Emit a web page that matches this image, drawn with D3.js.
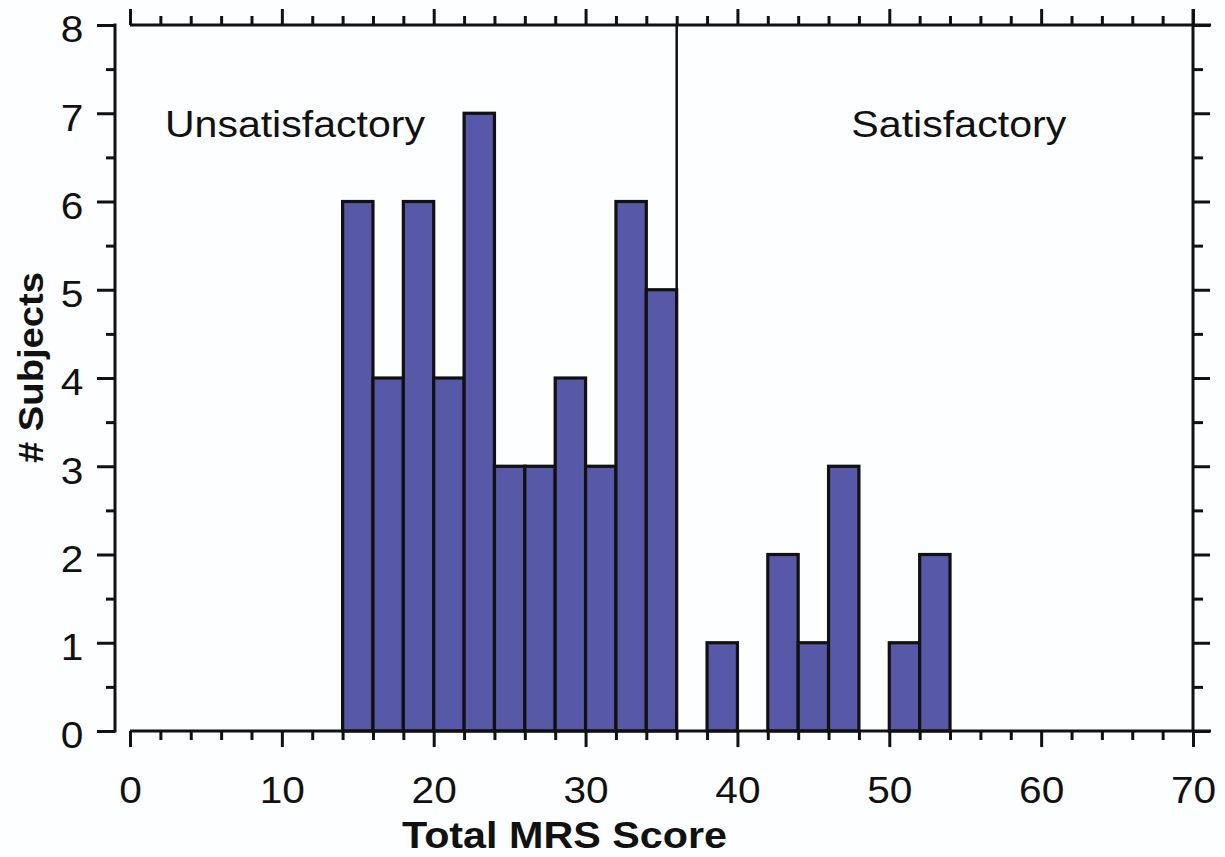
<!DOCTYPE html>
<html lang="en">
    <head>
        <meta charset="utf-8">
        <title>MRS Score Histogram</title>
        <script type="text/javascript" src="https://d3js.org/d3.v7.min.js"></script>
        <style>
            body { margin: 0; background: #fdfeff; }
            text { font-family: "Liberation Sans", Arial, sans-serif; fill: #111; }
        </style>
    </head>
    <body>
        <div class="chart"></div>
        <script type="text/javascript">
            // histogram bins (left edge of each 2-point bin) and subject counts
            const binStart = [14, 16, 18, 20, 22, 24, 26, 28, 30, 32, 34, 38, 42, 44, 46, 50, 52];
            const counts   = [ 6,  4,  6,  4,  7,  3,  3,  4,  3,  6,  5,  1,  2,  1,  3,  1,  2];
            const binWidth = 2;
            const xTicks = [0, 10, 20, 30, 40, 50, 60, 70];
            const yTicks = [0, 1, 2, 3, 4, 5, 6, 7, 8];
            const cutoff = 36;
            const regionNames = ['Unsatisfactory', 'Satisfactory'];

            const width = 1225;
            const height = 857;
            const stretch = 1.13;   // the original text is a bit wider than Arial

            const svg = d3.select('.chart')
                .append('svg')
                .attr('width', width)
                .attr('height', height);

            const x = d3.scaleLinear().domain([0, 70]).range([130, 1193]);
            const y = d3.scaleLinear().domain([0, 8]).range([731, 25]);

            const xMinor = d3.range(0, 71, 2).filter(v => v % 10 !== 0);
            const yMinor = d3.range(0.5, 8, 1);

            // bars
            const bins = binStart.map((b, i) => ({x0: b, x1: b + binWidth, n: counts[i]}));
            svg.selectAll('rect.bar')
                .data(bins)
                .enter()
                .append('rect')
                .attr('class', 'bar')
                .attr('x', d => x(d.x0))
                .attr('y', d => y(d.n))
                .attr('width', d => x(d.x1) - x(d.x0))
                .attr('height', d => y(0) - y(d.n))
                .attr('fill', '#5858a8')
                .attr('stroke', '#111')
                .attr('stroke-width', 3.2);

            // cutoff line
            svg.append('line')
                .attr('x1', x(cutoff)).attr('x2', x(cutoff))
                .attr('y1', y(8)).attr('y2', y(0))
                .attr('stroke', '#111').attr('stroke-width', 2.5);

            function styleAxis(g) {
                g.select('.domain').remove();
                g.selectAll('line').attr('stroke', '#111').attr('stroke-width', 3);
            }

            // bottom axis
            const gb = svg.append('g').attr('transform', `translate(0,${y(0)})`);
            gb.append('g').call(d3.axisBottom(x).tickValues(xMinor).tickSize(9).tickFormat('')).call(styleAxis);
            gb.append('g').call(d3.axisBottom(x).tickValues(xTicks).tickSize(16).tickPadding(30)).call(styleAxis)
                .selectAll('text')
                .attr('font-size', 36)
                .attr('font-family', '"Liberation Sans", Arial, sans-serif')
                .attr('fill', '#111')
                .attr('transform', `scale(${stretch},1)`);
            gb.append('line').attr('x1', x(0)).attr('x2', 1211).attr('stroke', '#111').attr('stroke-width', 3);

            // top axis
            const gt = svg.append('g').attr('transform', `translate(0,${y(8)})`);
            gt.append('g').call(d3.axisTop(x).tickValues(xMinor).tickSize(9).tickFormat('')).call(styleAxis);
            gt.append('g').call(d3.axisTop(x).tickValues(xTicks).tickSize(16).tickFormat('')).call(styleAxis);
            gt.append('line').attr('x1', x(0)).attr('x2', 1211).attr('stroke', '#111').attr('stroke-width', 3);

            // left axis (offset from the plot)
            const gl = svg.append('g').attr('transform', 'translate(115,0)');
            gl.append('g').call(d3.axisLeft(y).tickValues(yMinor).tickSize(9).tickFormat('')).call(styleAxis);
            gl.append('g').call(d3.axisLeft(y).tickValues(yTicks).tickSize(18).tickPadding(10)).call(styleAxis)
                .selectAll('text')
                .attr('font-size', 36)
                .attr('font-family', '"Liberation Sans", Arial, sans-serif')
                .attr('fill', '#111')
                .attr('dy', '0.47em')
                .attr('transform', `scale(${stretch},1)`);
            gl.append('line').attr('y1', y(0) + 1.5).attr('y2', y(8) - 1.5).attr('stroke', '#111').attr('stroke-width', 3);

            // right axis
            const gr = svg.append('g').attr('transform', `translate(${x(70)},0)`);
            gr.append('g').call(d3.axisRight(y).tickValues(yMinor).tickSize(10).tickFormat('')).call(styleAxis);
            gr.append('g').call(d3.axisRight(y).tickValues(yTicks).tickSize(17).tickFormat('')).call(styleAxis);
            gr.append('line').attr('y1', y(0)).attr('y2', y(8) - 16).attr('stroke', '#111').attr('stroke-width', 3);

            // region labels
            svg.append('text')
                .attr('x', x(2.3)).attr('y', 137)
                .attr('font-size', 37)
                .attr('textLength', 260).attr('lengthAdjust', 'spacingAndGlyphs')
                .text(regionNames[0]);
            svg.append('text')
                .attr('x', x(47.5)).attr('y', 137)
                .attr('font-size', 37)
                .attr('textLength', 215).attr('lengthAdjust', 'spacingAndGlyphs')
                .text(regionNames[1]);

            // axis titles
            svg.append('text')
                .attr('x', 402).attr('y', 848)
                .attr('font-size', 36)
                .attr('font-weight', 'bold')
                .attr('textLength', 325).attr('lengthAdjust', 'spacingAndGlyphs')
                .text('Total MRS Score');
            svg.append('text')
                .attr('transform', 'translate(43,463) rotate(-90)')
                .attr('font-size', 35)
                .attr('font-weight', 'bold')
                .attr('textLength', 191).attr('lengthAdjust', 'spacingAndGlyphs')
                .text('# Subjects');
        </script>
    </body>
</html>
